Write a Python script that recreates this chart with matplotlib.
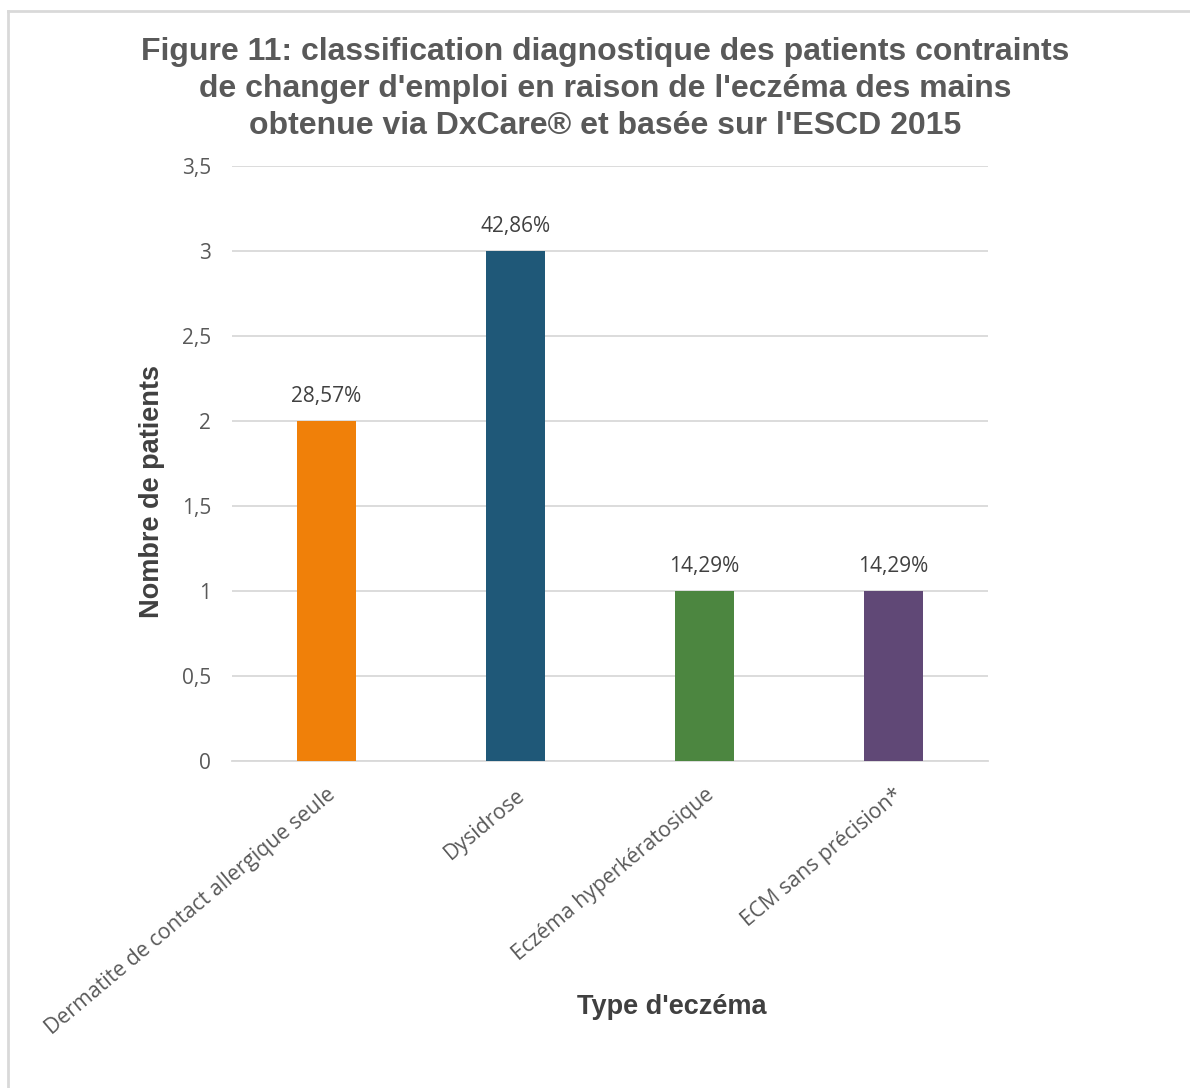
import matplotlib.pyplot as plt
from matplotlib.lines import Line2D

# chart data
categories = ["Dermatite de contact allergique seule", "Dysidrose",
              "Eczéma hyperkératosique", "ECM sans précision*"]
patients = [2, 3, 1, 1]
pct_labels = ["28,57%", "42,86%", "14,29%", "14,29%"]
bar_colors = ["#F08009", "#1F5878", "#4C8640", "#604876"]
y_ticks = [0, 0.5, 1, 1.5, 2, 2.5, 3, 3.5]
y_tick_labels = ["0", "0,5", "1", "1,5", "2", "2,5", "3", "3,5"]

title = ("Figure 11: classification diagnostique des patients contraints\n"
         "de changer d'emploi en raison de l'eczéma des mains\n"
         "obtenue via DxCare® et basée sur l'ESCD 2015")

grey = "#595959"
tick_font = "Open Sans"
head_font = "Liberation Sans"

fig = plt.figure(figsize=(11.9, 10.88), dpi=100)
ax = fig.add_axes([232/1190, 1 - 761/1088, (988-232)/1190, (761-166)/1088])

x = range(len(categories))
ax.bar(x, patients, width=0.31, color=bar_colors, zorder=3)
for xi, v, lab in zip(x, patients, pct_labels):
    ax.annotate(lab, (xi, v), xytext=(0, 10), textcoords="offset points",
                ha="center", va="bottom", fontsize=15, color="#404040",
                family=tick_font)

ax.set_xlim(-0.5, len(categories) - 0.5)
ax.set_ylim(0, 3.5)
ax.set_yticks(y_ticks)
ax.set_yticklabels(y_tick_labels, family=tick_font, fontsize=15, color=grey)
ax.set_xticks(list(x))
ax.set_xticklabels(categories, rotation=40, ha="right", rotation_mode="anchor",
                   family=tick_font, fontsize=15.3, color=grey)
ax.tick_params(axis="both", length=0)
ax.tick_params(axis="y", pad=15)
ax.tick_params(axis="x", pad=17)
ax.grid(axis="y", color="#D9D9D9", linewidth=1.3, zorder=0)
for s in ["top", "right", "left"]:
    ax.spines[s].set_visible(False)
ax.spines["bottom"].set_color("#D9D9D9")
ax.spines["bottom"].set_linewidth(1.3)

fig.text(605/1190, 1 - 89/1088, title, ha="center", va="center",
         fontsize=23, fontweight="bold", color=grey, family=head_font,
         linespacing=1.3)
fig.text(672/1190, 1 - 1007/1088, "Type d'eczéma", ha="center", va="center",
         fontsize=19.5, fontweight="bold", color="#404040", family=head_font)
fig.text(152/1190, 1 - 492/1088, "Nombre de patients", ha="center", va="center",
         rotation=90, fontsize=19.5, fontweight="bold", color="#404040",
         family=head_font)

# outer chart border (only top and left visible)
fig.add_artist(Line2D([8/1190, 8/1190], [0, 1 - 11/1088], transform=fig.transFigure,
                      color="#D9D9D9", linewidth=2))
fig.add_artist(Line2D([8/1190, 1], [1 - 11/1088, 1 - 11/1088], transform=fig.transFigure,
                      color="#D9D9D9", linewidth=2))

fig.savefig("out.png", dpi=100)
